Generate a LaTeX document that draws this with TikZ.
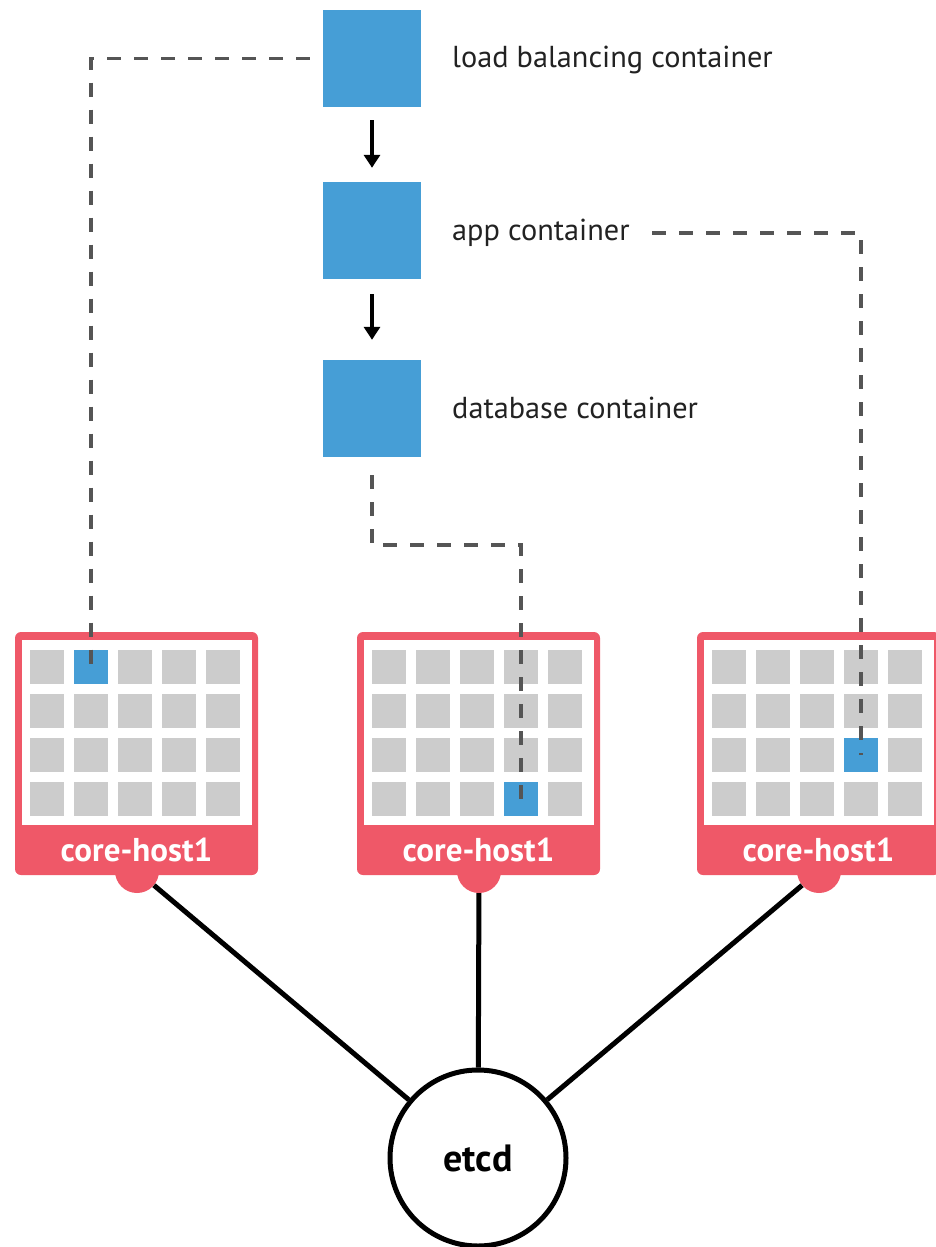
\documentclass[tikz,border=0pt]{standalone}
\usepackage{fontspec}
\setmainfont{PT Sans}
\usetikzlibrary{arrows.meta,calc}
\definecolor{cblue}{HTML}{469ED6}
\definecolor{hostred}{HTML}{EF5868}
\definecolor{cellgray}{HTML}{CCCCCC}
\definecolor{dashgray}{HTML}{555555}
\definecolor{txt}{HTML}{222222}
\begin{document}
\begin{tikzpicture}[x=1pt,y=-1pt,
  container/.style={fill=cblue, minimum width=98pt, minimum height=97pt, inner sep=0pt},
  clabel/.style={anchor=west, inner sep=0pt, text=txt, font=\fontsize{30.3}{34}\selectfont},
  flow/.style={-{Triangle[length=13pt,width=16pt]}, line width=3.5pt},
  link/.style={dashgray, line width=3.8pt, dash pattern=on 14pt off 13pt},
  wire/.style={line width=5pt, black},
  hostbox/.style={fill=hostred, minimum width=243pt, minimum height=243pt, rounded corners=6pt, inner sep=0pt},
  bump/.style={circle, fill=hostred, minimum size=44pt, inner sep=0pt},
  bluecell/.style={fill=cblue, minimum size=34pt, inner sep=0pt},
  hostlabel/.style={text=white, font=\fontsize{33}{37}\selectfont\bfseries},
  etcdnode/.style={circle, draw=black, line width=5pt, fill=white, minimum size=176pt, font=\fontsize{38}{42}\selectfont\bfseries}
]
\useasboundingbox (0,0) rectangle (936,1247);

% containers
\node[container] (lb) at (372,58.5) {};
\node[clabel] (lbl) at (452,60) {load balancing container};
\node[container] (app) at (372,230.5) {};
\node[clabel] (appl) at (452,233) {app container};
\node[container] (db) at (372,408.5) {};
\node[clabel] (dbl) at (452,408) {database container};

\draw[flow, shorten <=13pt, shorten >=14pt] (lb) -- (app);
\draw[flow, shorten <=15pt, shorten >=20pt] (app) -- (db);

% hosts
\foreach \hx/\name/\bc/\br in {15/h1/2/1, 357/h2/4/4, 697/h3/4/3}{
  \begin{scope}[shift={(\hx,0)}]
    \node[bump] (\name-b) at (122,871) {};
    \node[hostbox] (\name) at (121.5,753.5) {};
    \fill[white] (7,640) rectangle (237,825);
    \foreach \c in {0,...,4}{
      \foreach \r in {0,...,3}{
        \fill[cellgray] (15+44*\c,650+44*\r) rectangle ++(34,34);
      }
    }
    \node[bluecell] (\name-c) at ({15+44*(\bc-1)+17},{650+44*(\br-1)+17}) {};
    \node[hostlabel] (\name-l) at (121.5,850) {core-host1};
  \end{scope}
}

% dashed links
\coordinate (appstart) at (652,233);
\coordinate (bend) at (521,545);
\draw[link] ([xshift=-13pt]lb.west) -| (h1-c.center);
\draw[link] (appstart) -| (h3-c.center);
\draw[link] ([yshift=-18pt]db.south) |- (bend) -- (h2-c.center);

% etcd
\node[etcdnode] (etcd) at (478,1158) {etcd};
\draw[wire] (h1-b) -- (etcd);
\draw[wire] (h2-b) -- (etcd);
\draw[wire] (h3-b) -- (etcd);
\end{tikzpicture}
\end{document}
